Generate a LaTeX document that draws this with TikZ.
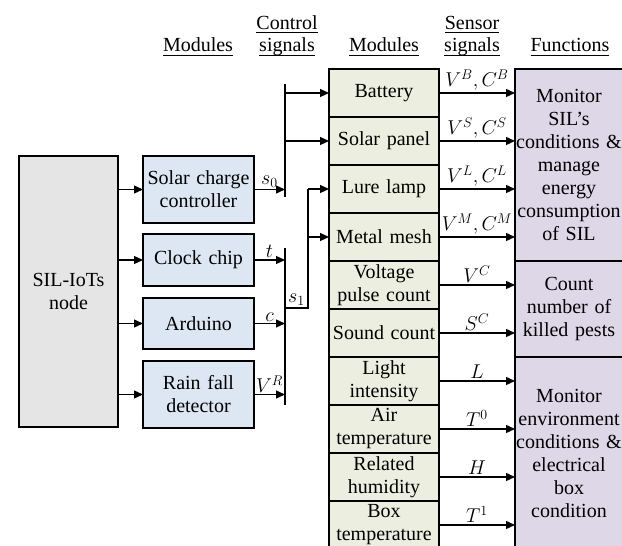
\RequirePackage{fix-cm}
\documentclass[tikz,border=0pt]{standalone}
\usepackage{fontspec}
\setmainfont{Liberation Serif}
\usetikzlibrary{arrows.meta, positioning}

\definecolor{silgray}{HTML}{E5E5E5}
\definecolor{ctrlblue}{HTML}{DDE7F3}
\definecolor{modgreen}{HTML}{ECEFDF}
\definecolor{funcpurple}{HTML}{DDD7E8}

% underlined column heading
\newcommand\hd[1]{\setbox0=\hbox{#1}\rlap{\rule[-4pt]{\wd0}{1pt}}\box0}

\begin{document}
\begin{tikzpicture}[
    x=1pt, y=-1pt,
    every node/.style={font=\fontsize{20}{23}\selectfont},
    box/.style={draw, line width=2.2pt, inner sep=0pt, outer sep=0pt, align=center},
    siliot/.style={box, fill=silgray, minimum width=99pt, minimum height=271pt},
    ctrl/.style={box, fill=ctrlblue, text width=111pt},
    module/.style={box, fill=modgreen, text width=110pt, minimum height=48pt},
    func/.style={box, fill=funcpurple, text width=108pt},
    edge/.style={-{Triangle[length=9pt, width=8pt]}, line width=1.3pt},
    bus/.style={line width=1.3pt},
    sig/.style={above, inner sep=1.5pt},
    header/.style={anchor=base, align=center, inner sep=0pt},
]
\useasboundingbox (0,0) rectangle (622,546);
\clip (0,0) rectangle (622,546);

% Column headings
\node[header] (h1) at (198,52) {\hd{Modules}};
\node[header] (h2) at (287,52) {\hd{Control}\\\hd{signals}};
\node[header] (h3) at (384,52) {\hd{Modules}};
\node[header] (h4) at (472,52) {\hd{Sensor}\\\hd{signals}};
\node[header] (h5) at (570,52) {\hd{Functions}};

% Main node and control modules
\node[siliot] (sil) at (68.5,291.5) {SIL-IoTs\\node};
\node[ctrl, minimum height=67pt] (scc) at (198.5,189.5) {Solar charge\\controller};
\node[ctrl, minimum height=52pt] (clock) at (198.5,260) {Clock chip};
\node[ctrl, minimum height=51pt] (ard) at (198.5,323.5) {Arduino};
\node[ctrl, minimum height=67pt] (rain) at (198.5,394.5) {Rain fall\\detector};

% Controlled and sensing modules
\node[module] (batt) at (384,93) {Battery};
\node[module, below=0pt of batt] (solarp) {Solar panel};
\node[module, below=0pt of solarp] (lure) {Lure lamp};
\node[module, below=0pt of lure] (mesh) {Metal mesh};
\node[module, below=0pt of mesh] (volt) {Voltage\\pulse count};
\node[module, below=0pt of volt] (sound) {Sound count};
\node[module, below=0pt of sound] (light) {Light\\intensity};
\node[module, below=0pt of light] (air) {Air\\temperature};
\node[module, below=0pt of air] (humid) {Related\\humidity};
\node[module, below=0pt of humid] (boxt) {Box\\temperature};

% Functions
\node[func, minimum height=192pt] (fmon) at (569,165) {Monitor\\SIL's\\conditions \&\\manage\\energy\\consumption\\of SIL};
\node[func, minimum height=96pt] (fcount) at (569,309) {Count\\number of\\killed pests};
\node[func, minimum height=192pt] (fenv) at (569,453) {Monitor\\environment\\conditions \&\\electrical\\box\\condition};

% SIL-IoTs node to control modules
\draw[edge] (sil.east |- scc.west) -- (scc.west);
\draw[edge] (sil.east |- clock.west) -- (clock.west);
\draw[edge] (sil.east |- ard.west) -- (ard.west);
\draw[edge] (sil.east |- rain.west) -- (rain.west);

% Control signal buses
\coordinate (bus0top) at (285,84);
\coordinate (bus0bot) at (285,197);
\coordinate (bus1top) at (285,248);
\coordinate (bus1bot) at (285,405);
\coordinate (s1) at (285,308);
\coordinate (feed) at (308,189);
\draw[bus] (bus0top) -- (bus0bot);
\draw[bus] (bus1top) -- (bus1bot);
\draw[bus] (s1) -- node[sig] {$s_1$} (s1 -| feed) -- (feed);

\draw[edge] (scc.east) -- node[sig] {$s_0$} (scc.east -| bus0top);
\draw[edge] (clock.east) -- node[sig] {$t$} (clock.east -| bus1top);
\draw[edge] (ard.east) -- node[sig] {$c$} (ard.east -| bus1top);
\draw[edge] (rain.east) -- node[sig] {$V^R$} (rain.east -| bus1top);

\draw[edge] (bus0top |- batt.west) -- (batt.west);
\draw[edge] (bus0top |- solarp.west) -- (solarp.west);
\draw[edge] (feed |- lure.west) -- (lure.west);
\draw[edge] (feed |- mesh.west) -- (mesh.west);

% Sensor signals
\draw[edge] (batt.east) -- node[sig] {$V^B, C^B$} (batt.east -| fmon.west);
\draw[edge] (solarp.east) -- node[sig] {$V^S, C^S$} (solarp.east -| fmon.west);
\draw[edge] (lure.east) -- node[sig] {$V^L, C^L$} (lure.east -| fmon.west);
\draw[edge] (mesh.east) -- node[sig] {$V^M, C^M$} (mesh.east -| fmon.west);
\draw[edge] (volt.east) -- node[sig] {$V^C$} (volt.east -| fcount.west);
\draw[edge] (sound.east) -- node[sig] {$S^C$} (sound.east -| fcount.west);
\draw[edge] (light.east) -- node[sig] {$L$} (light.east -| fenv.west);
\draw[edge] (air.east) -- node[sig] {$T^0$} (air.east -| fenv.west);
\draw[edge] (humid.east) -- node[sig] {$H$} (humid.east -| fenv.west);
\draw[edge] (boxt.east) -- node[sig] {$T^1$} (boxt.east -| fenv.west);

\end{tikzpicture}
\end{document}
